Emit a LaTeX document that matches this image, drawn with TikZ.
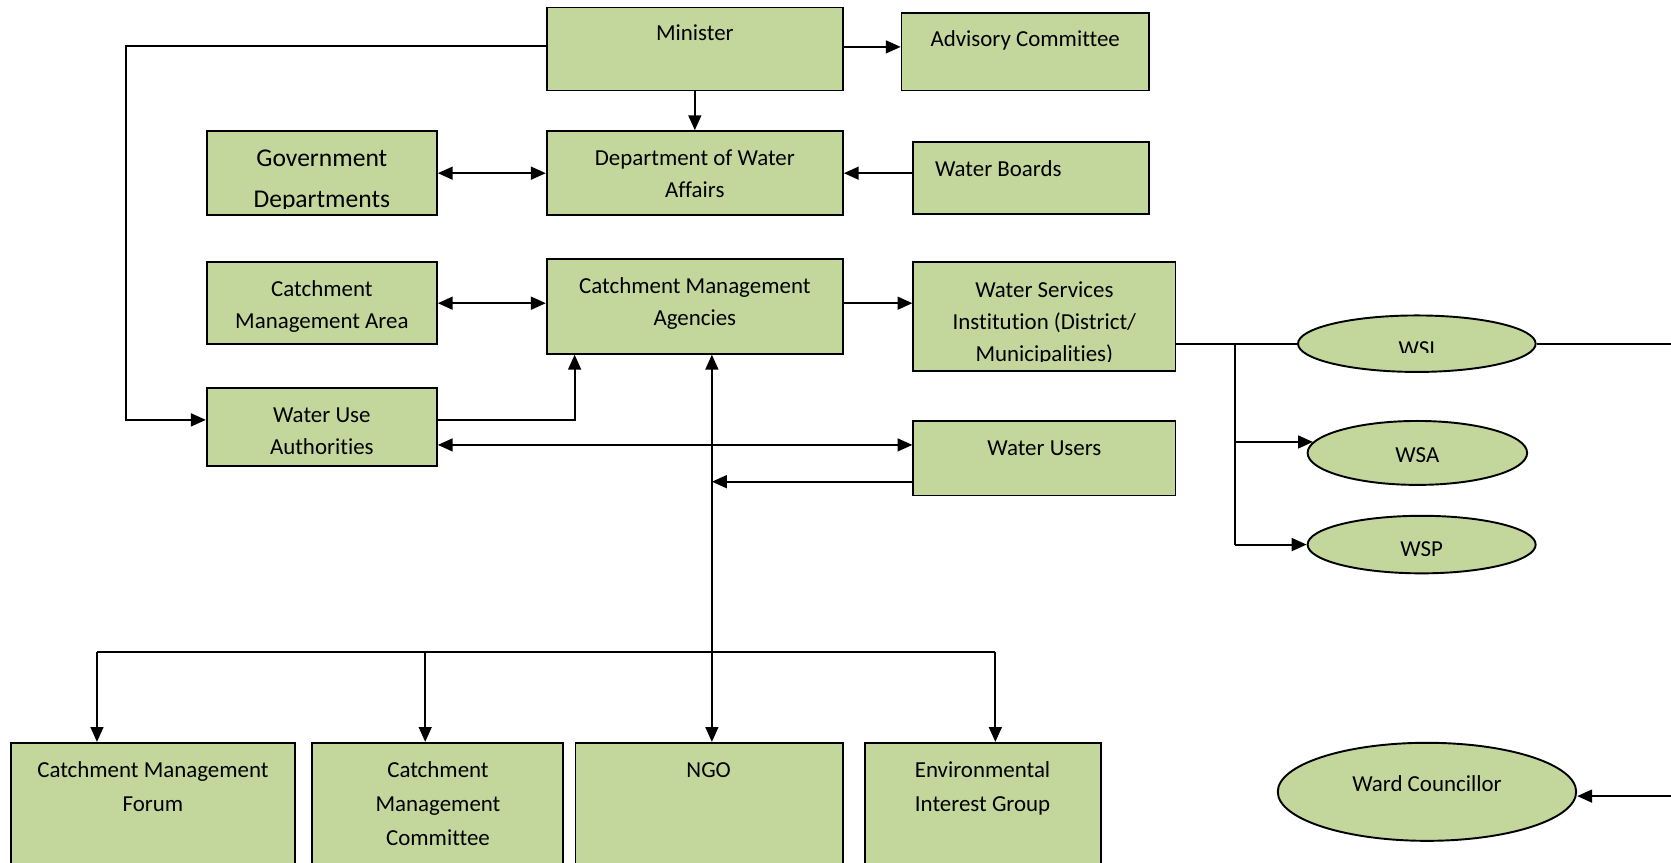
\documentclass[tikz,border=0pt]{standalone}
\usepackage{fontspec}
\setmainfont{Carlito}[Ligatures=NoCommon]
\usetikzlibrary{arrows.meta,calc,fit,shapes.geometric}
\definecolor{boxgreen}{HTML}{C3D69B}
\tikzset{
  box/.style={draw=black, line width=0.8pt, fill=boxgreen, inner sep=0pt},
  oval/.style={ellipse, draw=black, line width=0.9pt, fill=boxgreen, inner sep=0pt},
  txt/.style={font=\fontsize{10.75}{15}\selectfont, align=center, inner sep=0pt, anchor=base},
  wide/.style={font=\fontsize{10.75}{16}\selectfont},
  big/.style={font=\fontsize{12}{19}\selectfont},
  conn/.style={line width=1pt, -{Triangle[length=7pt,width=6pt]}},
  both/.style={line width=1pt, {Triangle[length=7pt,width=6pt]}-{Triangle[length=7pt,width=6pt]}},
  plain/.style={line width=1pt},
}
\begin{document}
\begin{tikzpicture}[x=0.5pt,y=-0.5pt]
\useasboundingbox (0,0) rectangle (1568,809);

% ---- rectangular boxes
\node[box, fit={(513,7)(791,85)}]     (min)  {};
\node[box, fit={(846,12)(1078,85)}]   (adv)  {};
\node[box, fit={(194,123)(410,202)}]  (gov)  {};
\node[box, fit={(513,123)(791,202)}]  (dwa)  {};
\node[box, fit={(857,133)(1078,201)}] (wb)   {};
\node[box, fit={(194,246)(410,323)}]  (cma)  {};
\node[box, fit={(513,243)(791,332)}]  (cmag) {};
\node[box, fit={(857,246)(1103,348)}] (wsib) {};
\node[box, fit={(194,364)(410,437)}]  (wua)  {};
\node[box, fit={(857,395)(1103,465)}] (wus)  {};
\node[box, fit={(10,697)(277,815)}]   (cmf)  {};
\node[box, fit={(293,697)(528,815)}]  (cmc)  {};
\node[box, fit={(540,697)(791,815)}]  (ngo)  {};
\node[box, fit={(812,697)(1033,815)}] (eig)  {};

% ---- ovals
\node[oval, minimum width=111.5pt, minimum height=26.5pt] (wsi)  at (1329.5,322.5) {};
\node[oval, minimum width=103pt,   minimum height=30pt]   (wsa)  at (1330,425) {};
\node[oval, minimum width=107pt,   minimum height=27pt]   (wsp)  at (1334,511) {};
\node[oval, minimum width=140pt,   minimum height=46pt]   (ward) at (1339,743) {};

% ---- labels (the base anchor sits on the last line)
\node[txt] (min-t)  at (652,38) {Minister};
\node[txt] (adv-t)  at (962,43.5) {Advisory Committee};
\begin{scope}
  \clip (194,123) rectangle (410,196);
  \node[txt, big] (gov-t) at (302,194.4) {Government\\Departments};
\end{scope}
\node[txt] (dwa-t)  at (652,185.5) {Department of Water\\Affairs};
\node[txt, anchor=base west] (wb-t) at (877,165.5) {Water Boards};
\node[txt] (cma-t)  at (302,308.5) {Catchment\\Management Area};
\node[txt] (cmag-t) at (652,305.5) {Catchment Management\\Agencies};
\begin{scope}
  \clip (857,246) rectangle (1103,339.5);
  \node[txt] (wsib-t) at (980,339) {Water Services\\Institution (District/\\Municipalities)};
\end{scope}
\node[txt] (wua-t)  at (302,426.5) {Water Use\\Authorities};
\node[txt] (wus-t)  at (980,427.5) {Water Users};
\begin{scope}
  \clip (1240,300) rectangle (1420,331);
  \node[txt] (wsi-t) at (1329.5,334.6) {WSI};
\end{scope}
\node[txt] (wsa-t)  at (1330,434) {WSA};
\begin{scope}
  \clip (1240,490) rectangle (1420,521);
  \node[txt] (wsp-t) at (1334,522) {WSP};
\end{scope}
\node[txt] (ward-t) at (1339,743) {Ward Councillor};
\node[txt, wide] (cmf-t) at (143.5,761.5) {Catchment Management\\Forum};
\node[txt, wide] (cmc-t) at (411,793.5) {Catchment\\Management\\Committee};
\node[txt, wide] (ngo-t) at (665,729.5) {NGO};
\node[txt, wide] (eig-t) at (922,761.5) {Environmental\\Interest Group};

% ---- helper points
\coordinate (minL)   at ($(min.west)+(0,-3)$);
\coordinate (lbend)  at (118,394);
\coordinate (minR)   at ($(min.east)+(0,-2)$);
\coordinate (wuaR)   at ($(wua.east)+(0,-6)$);
\coordinate (cmagIn) at ($(cmag.south west)+(27,0)$);
\coordinate (wuaR2)  at ($(wua.east)+(0,17)$);
\coordinate (wusOut) at ($(wus.west)+(0,22)$);
\coordinate (trunk)  at (668,612);
\coordinate (busL)   at (91,612);
\coordinate (busC)   at (399,612);
\coordinate (busR)   at (934,612);
\coordinate (br)     at (1159,322.5);
\coordinate (rEdge)  at (1572,322.5);
\coordinate (wardIn) at (1572,747);

% ---- connectors
\draw[conn] (minL) -| (lbend) -- (lbend -| wua.west);
\draw[conn] (minR) -- (minR -| adv.west);
\draw[conn] (min.south) -- (dwa.north);
\draw[both] (gov.east) -- (gov.east -| dwa.west);
\draw[conn] (wb.west |- dwa.east) -- (dwa.east);
\draw[both] (cma.east) -- (cma.east -| cmag.west);
\draw[conn] (cma.east -| cmag.east) -- (cma.east -| wsib.west);
\draw[conn] (wuaR) -| (cmagIn);
\draw[both] (wuaR2) -- (wuaR2 -| wus.west);
\draw[conn] (wusOut) -- (wusOut -| trunk);
\draw[conn] (trunk) -- (trunk |- cmag.south);
\draw[conn] (trunk) -- (trunk |- ngo.north);
\draw[plain] (busL) -- (busR);
\draw[conn] (busL) -- (busL |- cmf.north);
\draw[conn] (busC) -- (busC |- cmc.north);
\draw[conn] (busR) -- (busR |- eig.north);
\draw[plain] (wsi.west -| wsib.east) -- (wsi.west);
\draw[plain] (wsi.east) -- (rEdge);
\draw[plain] (br) -- (br |- wsp.west);
\draw[conn] (br |- wsa.174) -- (wsa.174);
\draw[conn] (br |- wsp.west) -- (wsp.west);
\draw[conn] (wardIn) -- (wardIn -| ward.east);
\end{tikzpicture}
\end{document}
